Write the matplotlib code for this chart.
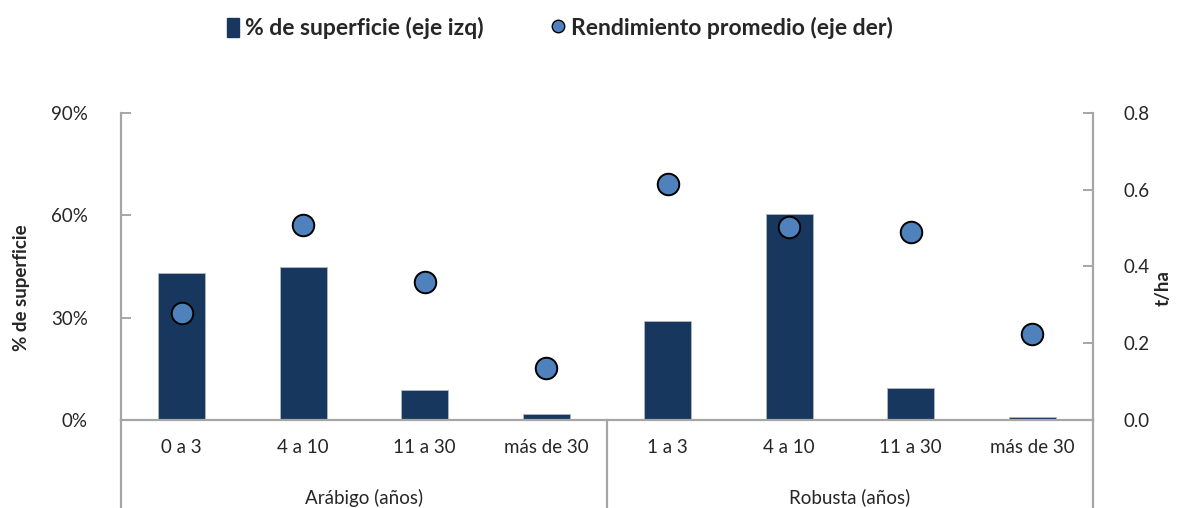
import matplotlib.pyplot as plt
from matplotlib.lines import Line2D
from matplotlib.patches import Patch
from matplotlib.transforms import blended_transform_factory

plt.rcParams['font.family'] = ['Lato', 'DejaVu Sans']

# data
categories = ["0 a 3", "4 a 10", "11 a 30", "más de 30",
              "1 a 3", "4 a 10", "11 a 30", "más de 30"]
groups = ["Arábigo (años)", "Robusta (años)"]
superficie = [43.2, 44.9, 8.7, 1.8, 28.9, 60.3, 9.5, 1.0]      # % (left axis)
rendimiento = [0.28, 0.509, 0.359, 0.135, 0.616, 0.503, 0.49, 0.224]  # t/ha (right axis)

BAR_COLOR = "#17375E"
DOT_COLOR = "#4F81BD"
AXIS_COLOR = "#A6A6A6"
TEXT_COLOR = "#262626"
FS = 13.5

fig = plt.figure(figsize=(11.8, 5.08), dpi=100)
ax = fig.add_axes([121 / 1180, 88 / 508, 972 / 1180, 307 / 508])
ax2 = ax.twinx()

x = list(range(len(categories)))
ax.bar(x, superficie, width=0.39, color=BAR_COLOR, edgecolor="#B0B8C4", linewidth=0.6)
ax2.plot(x, rendimiento, "o", markersize=15.5, markerfacecolor=DOT_COLOR,
         markeredgecolor="black", markeredgewidth=1.4)

ax.set_xlim(-0.5, len(categories) - 0.5)
ax.set_ylim(0, 90)
ax2.set_ylim(0, 0.8)

ax.set_yticks([0, 30, 60, 90])
ax.set_yticklabels(["0%", "30%", "60%", "90%"])
ax2.set_yticks([0, 0.2, 0.4, 0.6, 0.8])
ax2.set_yticklabels(["0.0", "0.2", "0.4", "0.6", "0.8"])

for a in (ax, ax2):
    for s in a.spines.values():
        s.set_visible(False)
ax.spines["left"].set_visible(True)
ax.spines["bottom"].set_visible(True)
ax2.spines["right"].set_visible(True)
for s in (ax.spines["left"], ax.spines["bottom"], ax2.spines["right"]):
    s.set_color(AXIS_COLOR)
    s.set_linewidth(1.6)

ax.tick_params(axis="y", direction="in", length=7, width=1.4, color=AXIS_COLOR,
               labelsize=FS, labelcolor=TEXT_COLOR, pad=24)
ax2.tick_params(axis="y", direction="in", length=7, width=1.4, color=AXIS_COLOR,
                labelsize=FS, labelcolor=TEXT_COLOR, pad=22)
ax.set_xticks(x)
ax.set_xticklabels(categories)
ax.tick_params(axis="x", length=0, labelsize=FS, labelcolor=TEXT_COLOR, pad=14)

# group separators and group labels
trans = blended_transform_factory(ax.transData, ax.transAxes)
for xs in (-0.5, 3.5, 7.5):
    ax.plot([xs, xs], [0, -0.3], transform=trans, color=AXIS_COLOR, lw=1.6, clip_on=False)
ax.text(1.5, -0.253, groups[0], transform=trans, ha="center", va="center",
        fontsize=FS, color=TEXT_COLOR)
ax.text(5.5, -0.253, groups[1], transform=trans, ha="center", va="center",
        fontsize=FS, color=TEXT_COLOR)

fig.text(22 / 1180, 1 - 288 / 508, "% de superficie", rotation=90, ha="center",
         va="center", fontsize=FS, fontweight="bold", color=TEXT_COLOR)
fig.text(1163 / 1180, 1 - 288 / 508, "t/ha", rotation=90, ha="center",
         va="center", fontsize=FS, fontweight="bold", color=TEXT_COLOR)

handles = [
    Patch(facecolor=BAR_COLOR, edgecolor=BAR_COLOR),
    Line2D([], [], marker="o", linestyle="none", markersize=9,
           markerfacecolor=DOT_COLOR, markeredgecolor="black", markeredgewidth=1),
]
labels = ["% de superficie (eje izq)", "Rendimiento promedio (eje der)"]
fig.legend(handles, labels, loc="center", bbox_to_anchor=(560 / 1180, 1 - 28 / 508),
           ncol=2, frameon=False, handlelength=0.5, handleheight=0.9,
           handletextpad=0.3, columnspacing=3.0,
           prop={"size": 16.5, "weight": "bold"}, labelcolor=TEXT_COLOR)

fig.savefig("out.png", dpi=100)
